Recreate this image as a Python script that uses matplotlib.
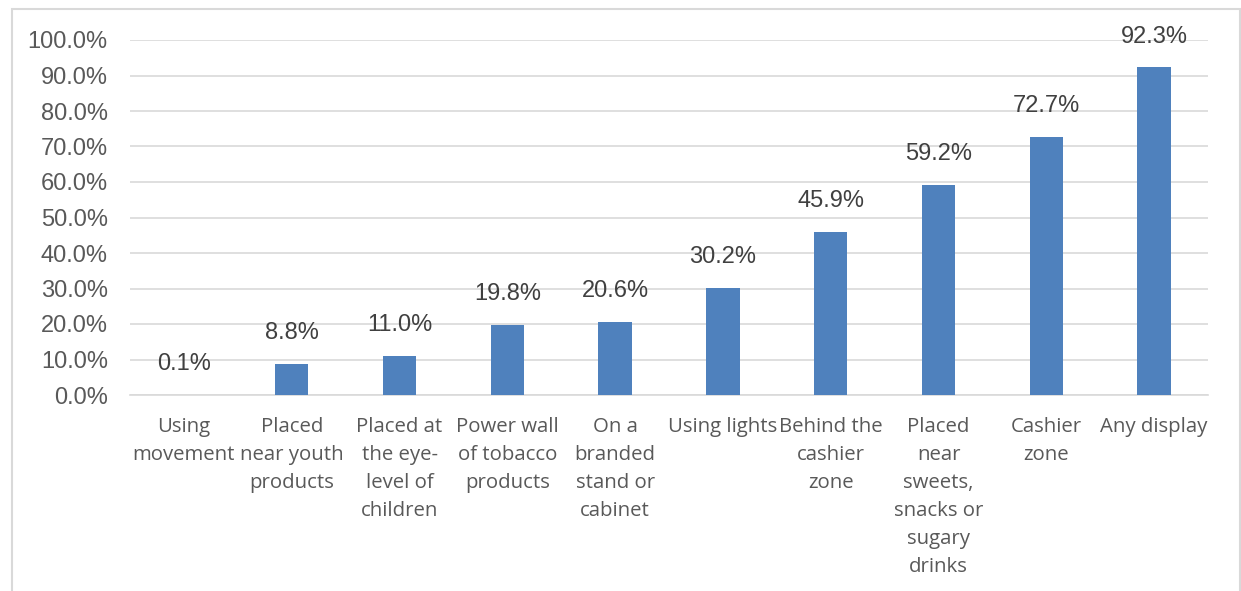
import matplotlib
matplotlib.use("Agg")
import matplotlib.pyplot as plt
from matplotlib.patches import Rectangle
from matplotlib.ticker import FuncFormatter, MultipleLocator

categories = ["Using\nmovement", "Placed\nnear youth\nproducts", "Placed at\nthe eye-\nlevel of\nchildren",
              "Power wall\nof tobacco\nproducts", "On a\nbranded\nstand or\ncabinet", "Using lights",
              "Behind the\ncashier\nzone", "Placed\nnear\nsweets,\nsnacks or\nsugary\ndrinks",
              "Cashier\nzone", "Any display"]
values = [0.1, 8.8, 11.0, 19.8, 20.6, 30.2, 45.9, 59.2, 72.7, 92.3]

W, H = 1241, 591
fig = plt.figure(figsize=(W/100, H/100), dpi=100)
ax = fig.add_axes([130/W, 1-395/H, (1208-130)/W, (395-40)/H])

x = list(range(len(values)))
ax.bar(x, values, width=0.31, color="#4F81BD", zorder=3)
ax.set_xlim(-0.5, len(values)-0.5)
ax.set_ylim(0, 100)
ax.yaxis.set_major_locator(MultipleLocator(10))
ax.yaxis.set_major_formatter(FuncFormatter(lambda v, p: f"{v:.1f}%"))
ax.grid(axis="y", color="#D9D9D9", linewidth=1.2, zorder=0)
for s in ["top", "right", "left"]:
    ax.spines[s].set_visible(False)
ax.spines["bottom"].set_color("#D9D9D9")
ax.spines["bottom"].set_linewidth(1.2)
ax.tick_params(axis="both", length=0)
ax.tick_params(axis="y", pad=16, labelsize=17, labelcolor="#595959")
for t in ax.get_yticklabels():
    t.set_fontfamily("Liberation Sans")
ax.set_xticks(x)
ax.set_xticklabels(categories, fontsize=14.7, color="#595959", family="Open Sans", linespacing=1.53)
ax.tick_params(axis="x", pad=16)

for xi, v in zip(x, values):
    ax.annotate(f"{v:.1f}%", (xi, v), xytext=(0, 22), textcoords="offset points",
                ha="center", va="center", fontsize=17, color="#404040", family="Liberation Sans")

fig.patches.append(Rectangle((12/W, -0.01), (1240-12)/W, 1-9/H+0.01, transform=fig.transFigure,
                             fill=False, edgecolor="#D9D9D9", linewidth=1.5))
fig.savefig("out.png", dpi=100)
